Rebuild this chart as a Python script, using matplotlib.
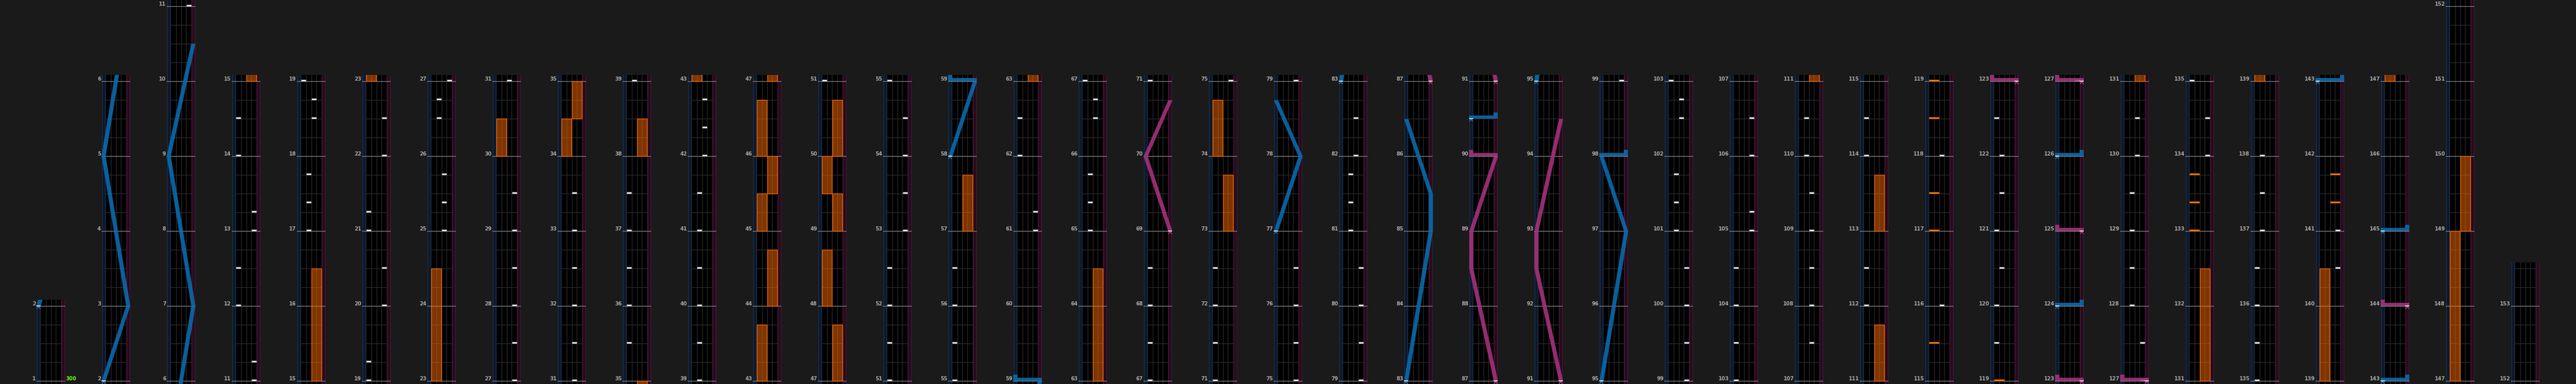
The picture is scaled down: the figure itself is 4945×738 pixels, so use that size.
import matplotlib
matplotlib.use("Agg")
import matplotlib.pyplot as plt
from matplotlib.patches import Rectangle

# ---------------- data ----------------
# columns of the chart view: first and last measure shown in each column
col_bottoms = [1, 2, 6, 11, 15, 19, 23, 27, 31, 35, 39, 43, 47, 51, 55, 59, 63, 67, 71, 75,
               79, 83, 87, 91, 95, 99, 103, 107, 111, 115, 119, 123, 127, 131, 135, 139, 143, 147, 152]
col_tops = [2, 6, 11, 15, 19, 23, 27, 31, 35, 39, 43, 47, 51, 55, 59, 63, 67, 71, 75, 79,
            83, 87, 91, 95, 99, 103, 107, 111, 115, 119, 123, 127, 131, 135, 139, 143, 147, 152, 153]
last_col_extra = 0.583          # the final column runs a little past measure 153

bpm_changes = [(1, "300")]

# BT chips (measure position) per lane
bt_lane1 = [12.0, 12.5, 14.0, 14.5, 19.0, 19.25, 21.0, 21.25, 35.5, 36.0, 36.5, 37.0, 37.5,
            51.0, 51.5, 52.0, 52.5, 55.0, 55.5, 56.0, 56.5, 62.0, 62.5, 67.0, 67.5, 68.0, 68.5,
            71.0, 71.5, 72.0, 72.5, 103.0, 103.5, 104.0, 104.5, 112.0, 112.5, 114.0, 114.5,
            119.5, 120.0, 121.0, 122.5, 135.0, 135.5, 136.0, 136.5]
bt_lane2 = [17.0, 17.375, 17.75, 26.5, 26.75, 39.0, 39.5, 40.0, 40.5, 41.0, 41.5,
            65.0, 65.375, 65.75, 81.0, 81.375, 81.75, 101.0, 101.375, 101.75, 110.0, 110.5,
            120.5, 121.5, 122.0, 128.0, 128.5, 129.0, 129.5, 137.0, 137.5, 138.0]
bt_lane3 = [18.5, 18.75, 25.0, 25.375, 25.75, 31.0, 31.5, 32.0, 32.5, 33.0, 33.5,
            42.0, 42.375, 42.75, 66.5, 66.75, 82.0, 82.5, 102.5, 102.75, 107.5, 108.0, 108.5,
            109.0, 109.5, 116.0, 118.0, 130.0, 130.5]
bt_lane4 = [11.0, 11.25, 13.0, 13.25, 20.0, 20.5, 22.0, 22.5, 27.0, 27.5, 28.0, 28.5, 29.0,
            29.5, 53.0, 53.5, 54.0, 54.5, 61.0, 61.25, 75.0, 75.5, 76.0, 76.5, 79.0, 79.5,
            80.0, 80.5, 99.0, 99.5, 100.0, 100.5, 105.0, 105.25, 106.0, 106.5, 127.0, 127.5,
            134.0, 134.5, 140.5, 141.0]

# FX chips (measure position)
fx_left_chips = [115.5, 117.0, 117.5, 118.5, 119.0, 133.0, 133.375, 133.75]
fx_right_chips = [141.375, 141.75]

# FX long notes (start, end)
fx_left_holds = [(23, 24.5), (30, 30.5), (34, 34.5), (43, 43.75), (45, 45.5), (46, 46.75),
                 (48, 48.75), (49.5, 50), (74, 74.75), (139, 140.5), (147, 149)]
fx_right_holds = [(15, 16.5), (34.5, 35), (38, 38.5), (44, 44.75), (45.5, 46), (47, 47.75),
                  (49, 49.5), (50, 50.75), (57, 57.75), (63, 64.5), (73, 73.75),
                  (111, 111.75), (113, 113.75), (131, 132.5), (149, 150)]

# lasers: list of (measure, position 0=left .. 1=right); equal measures = slam
laser_left = [
    [(2, 0), (3, 1), (5, 0), (7, 1), (9, 0), (10.5, 1)],
    [(58, 0), (59, 1), (59, 0)],
    [(77, 0), (78, 1), (78.75, 0)],
    [(83, 0), (85, 1), (85.5, 1), (86.5, 0)],
    [(90.5, 0), (90.5, 1)],
    [(95, 0), (97, 1), (98, 0), (98, 1)],
    [(124, 0), (124, 1)],
    [(126, 0), (126, 1)],
    [(143, 0), (143, 1)],
    [(145, 0), (145, 1)],
]
laser_right = [
    [(69, 1), (70, 0), (70.75, 1)],
    [(87, 1), (88.5, 0), (89, 0), (90, 1), (90, 0)],
    [(91, 1), (92.5, 0), (93, 0), (94.5, 1)],
    [(123, 1), (123, 0)],
    [(125, 1), (125, 0)],
    [(127, 1), (127, 0)],
    [(144, 1), (144, 0)],
]

# ---------------- style / geometry ----------------
W, H, DPI = 4945, 738, 100
COL_X0, COL_STEP, COL_W = 70, 125, 55
MEAS_PX = 144.0
BOTTOM_PAD_PX = 6.0
TOP_PAD_PX = 12.0
LANE_X0, LANE_W = 7.75, 9.875
LASER_X0, LASER_SPAN, LASER_HW = 3.9, 47.2, 4.0

BG = "#1a1a1a"
BLUE, BLUE_LIGHT = "#0b6db0", "#3d95d8"
PINK, PINK_LIGHT = "#a8337e", "#d860a8"
HOLD_FACE = (1.0, 0.42, 0.0, 0.5)
HOLD_EDGE = "#ff6a00"

fig = plt.figure(figsize=(W / DPI, H / DPI), dpi=DPI, facecolor=BG)


def lx(p):
    return LASER_X0 + LASER_SPAN * p


def draw_laser(ax, pts, color, light):
    px = 1.0 / MEAS_PX
    m0, p0 = pts[0]
    x0 = lx(p0)
    # start marker: white tick and chevron
    ax.plot([x0 - LASER_HW, x0 + LASER_HW], [m0, m0], color="white", lw=1.1,
            solid_capstyle="butt", zorder=7)
    ax.plot([x0 - 3, x0, x0 + 3], [m0 - 5 * px, m0 - 1.2 * px, m0 - 5 * px],
            color=light, lw=0.8, zorder=7)
    run = [pts[0]]
    last_slam = False

    def flush(r):
        if len(r) > 1:
            ms = [q[0] for q in r]
            xs = [lx(q[1]) for q in r]
            ax.fill_betweenx(ms, [x - LASER_HW for x in xs], [x + LASER_HW for x in xs],
                             color=color, alpha=0.88, lw=0, zorder=6)

    for (m, p) in pts[1:]:
        if m == run[-1][0]:
            flush(run)
            xa, xb = lx(run[-1][1]), lx(p)
            lo, hi = min(xa, xb) - LASER_HW, max(xa, xb) + LASER_HW
            ax.add_patch(Rectangle((lo, m), hi - lo, 6 * px, facecolor=color, alpha=0.88,
                                   lw=0, zorder=6))
            run = [(m, p)]
            last_slam = True
        else:
            run.append((m, p))
            last_slam = False
    flush(run)
    if last_slam:
        m, p = pts[-1]
        ax.add_patch(Rectangle((lx(p) - LASER_HW, m + 6 * px), 2 * LASER_HW, 6 * px,
                               facecolor=color, alpha=0.88, lw=0, zorder=6))


for i, (b, t) in enumerate(zip(col_bottoms, col_tops)):
    extra = last_col_extra if i == len(col_bottoms) - 1 else TOP_PAD_PX / MEAS_PX
    y_lo = b - BOTTOM_PAD_PX / MEAS_PX
    y_hi = t + extra
    h_px = (y_hi - y_lo) * MEAS_PX
    left = COL_X0 + COL_STEP * i
    ax = fig.add_axes([left / W, 0, COL_W / W, h_px / H])
    ax.set_xlim(0, COL_W)
    ax.set_ylim(y_lo, y_hi)
    ax.set_facecolor("black")
    ax.set_xticks([])
    ax.set_yticks([])
    for s in ax.spines.values():
        s.set_visible(False)
    # side (laser) strips
    ax.axvspan(0, LANE_X0, color="#0f1829", lw=0, zorder=0)
    ax.axvspan(LANE_X0 + 4 * LANE_W, COL_W, color="#250c1c", lw=0, zorder=0)
    for xv, c in [(0.6, "#1c344d"), (LANE_X0 - 0.6, "#1c344d"),
                  (LANE_X0 + 4 * LANE_W + 0.6, "#4a1838"), (COL_W - 0.6, "#4a1838")]:
        ax.axvline(xv, color=c, lw=0.9, zorder=1)
    # lane separators
    for k in range(1, 4):
        ax.axvline(LANE_X0 + k * LANE_W, color="#2e2e2e", lw=0.8, zorder=1)
    # beat lines
    q = b * 4
    while q / 4 <= y_hi:
        mq = q / 4
        if q % 4 != 0 and mq >= y_lo:
            ax.plot([LANE_X0, LANE_X0 + 4 * LANE_W], [mq, mq], color="#303030", lw=0.8,
                    zorder=1)
        q += 1
    # measure lines + labels
    for m in range(b, t + 1):
        ax.axhline(m, color="#8a8a8a", lw=0.9, zorder=2)
        ax.text(-1.3, m + 0.6 / MEAS_PX, str(m), ha="right", va="baseline", fontsize=7,
                fontweight="bold", color="#a6a6a6", clip_on=False, family="DejaVu Sans")
    for (mb, bpm) in bpm_changes:
        if b <= mb <= t:
            ax.text(COL_W + 1.3, mb + 0.6 / MEAS_PX, bpm, ha="left", va="baseline",
                    fontsize=7, fontweight="bold", color="#66ff00", clip_on=False)
    # FX holds
    for side, holds in enumerate([fx_left_holds, fx_right_holds]):
        for (s, e) in holds:
            ax.add_patch(Rectangle((LANE_X0 + 2 * side * LANE_W + 0.3, s), 2 * LANE_W - 0.6,
                                   e - s, facecolor=HOLD_FACE, edgecolor=HOLD_EDGE, lw=0.9,
                                   zorder=3))
    # FX chips
    for side, chips in enumerate([fx_left_chips, fx_right_chips]):
        for m in chips:
            ax.add_patch(Rectangle((LANE_X0 + 2 * side * LANE_W + 0.7, m - 0.3 / MEAS_PX),
                                   2 * LANE_W - 1.4, 3.0 / MEAS_PX, facecolor="#ff7a10",
                                   edgecolor="#b04a00", lw=0.4, zorder=4))
    # BT chips
    for lane, chips in enumerate([bt_lane1, bt_lane2, bt_lane3, bt_lane4]):
        for m in chips:
            ax.add_patch(Rectangle((LANE_X0 + lane * LANE_W + 0.7, m - 0.3 / MEAS_PX),
                                   LANE_W - 1.4, 3.0 / MEAS_PX, facecolor="#eef3fa",
                                   edgecolor="#8190a0", lw=0.4, zorder=5))
    # lasers
    for pts in laser_left:
        draw_laser(ax, pts, BLUE, BLUE_LIGHT)
    for pts in laser_right:
        draw_laser(ax, pts, PINK, PINK_LIGHT)

fig.savefig("out.png", dpi=DPI, facecolor=BG)
